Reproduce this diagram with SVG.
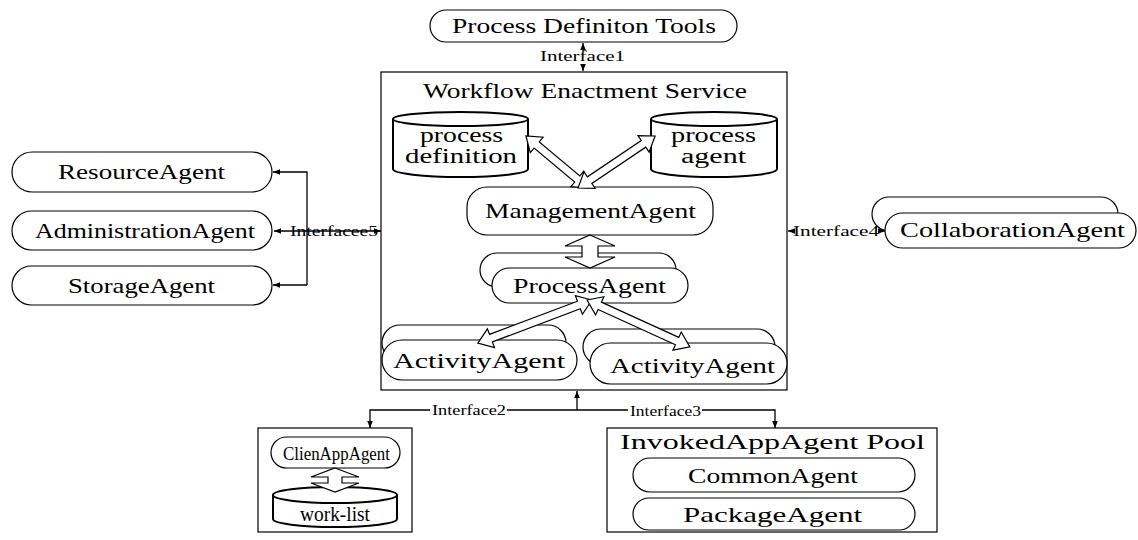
<svg xmlns="http://www.w3.org/2000/svg" width="1138" height="540" viewBox="0 0 1138 540">
<style>
  .n { fill: #fff; stroke: #000; stroke-width: 1.2; }
  .c { fill: #fff; stroke: #000; stroke-width: 2; }
  .b { fill: #fff; stroke: #000; stroke-width: 1.2; }
  .t { font-family: "Liberation Serif", "Times New Roman", serif; font-size: 22px; fill: #000; }
  .m { font-family: "Liberation Serif", "Times New Roman", serif; font-size: 20px; fill: #000; }
  .s { font-family: "Liberation Serif", "Times New Roman", serif; font-size: 14px; fill: #000; }
  .l { fill: none; stroke: #000; stroke-width: 1.3; }
  .h { fill: #fff; stroke: #000; stroke-width: 1.2; stroke-linejoin: miter; }
</style>
<defs>
  <marker id="ah" viewBox="0 0 10 10" refX="10" refY="5" markerWidth="7" markerHeight="7" markerUnits="userSpaceOnUse" orient="auto-start-reverse">
    <path d="M0,1 L10,5 L0,9 z" fill="#000"/>
  </marker>
</defs>
<rect width="1138" height="540" fill="#fff"/>

<g id="process-definition-tools">
  <rect class="n" x="430" y="10" width="307" height="32" rx="16"/>
  <text class="t" x="452" y="33" textLength="264" lengthAdjust="spacingAndGlyphs">Process Definiton Tools</text>
</g>

<g id="workflow-enactment-service">
  <rect class="b" x="381" y="72" width="406" height="318"/>
  <text class="t" x="423" y="98" textLength="324" lengthAdjust="spacingAndGlyphs">Workflow Enactment Service</text>
</g>

<g id="process-definition">
  <path class="c" d="M393,119 A67.5,7 0 0,1 528,119 L528,169 A67.5,8 0 0,1 393,169 Z"/>
  <path class="c" d="M393,119 A67.5,7 0 0,0 528,119"/>
  <text class="m" x="420" y="142" textLength="83" lengthAdjust="spacingAndGlyphs">process</text>
  <text class="m" x="405" y="163" textLength="112" lengthAdjust="spacingAndGlyphs">definition</text>
</g>

<g id="process-agent-db">
  <path class="c" d="M651,119 A63,7 0 0,1 777,119 L777,169 A63,8 0 0,1 651,169 Z"/>
  <path class="c" d="M651,119 A63,7 0 0,0 777,119"/>
  <text class="m" x="671" y="142" textLength="85" lengthAdjust="spacingAndGlyphs">process</text>
  <text class="m" x="681" y="163" textLength="65" lengthAdjust="spacingAndGlyphs">agent</text>
</g>

<g id="management-agent">
  <rect class="n" x="467" y="187" width="246" height="48" rx="20"/>
  <text class="t" x="485" y="218" textLength="211" lengthAdjust="spacingAndGlyphs">ManagementAgent</text>
</g>

<g id="process-agent">
  <rect class="n" x="480" y="253" width="196" height="34" rx="17"/>
  <rect class="n" x="492" y="268" width="196" height="35" rx="17.5"/>
  <text class="t" x="513" y="293" textLength="153" lengthAdjust="spacingAndGlyphs">ProcessAgent</text>
</g>

<g id="activity-agent-1">
  <rect class="n" x="382" y="325" width="184" height="36" rx="18"/>
  <rect class="n" x="382" y="340" width="195" height="40" rx="20"/>
  <text class="t" x="393" y="368" textLength="172" lengthAdjust="spacingAndGlyphs">ActivityAgent</text>
</g>

<g id="activity-agent-2">
  <rect class="n" x="583" y="329" width="192" height="36" rx="18"/>
  <rect class="n" x="590" y="343" width="197" height="41" rx="20.5"/>
  <text class="t" x="610" y="373" textLength="165" lengthAdjust="spacingAndGlyphs">ActivityAgent</text>
</g>

<g id="resource-agent">
  <rect class="n" x="12" y="152" width="260" height="40" rx="20"/>
  <text class="t" x="58" y="179" textLength="167" lengthAdjust="spacingAndGlyphs">ResourceAgent</text>
</g>

<g id="administration-agent">
  <rect class="n" x="12" y="211" width="260" height="39" rx="19.5"/>
  <text class="t" x="35" y="238" textLength="220" lengthAdjust="spacingAndGlyphs">AdministrationAgent</text>
</g>

<g id="storage-agent">
  <rect class="n" x="12" y="266" width="260" height="39" rx="19.5"/>
  <text class="t" x="68" y="293" textLength="147" lengthAdjust="spacingAndGlyphs">StorageAgent</text>
</g>

<g id="collaboration-agent">
  <rect class="n" x="872" y="197" width="246" height="34" rx="17"/>
  <rect class="n" x="885" y="213" width="251" height="35" rx="17.5"/>
  <text class="t" x="900" y="237" textLength="225" lengthAdjust="spacingAndGlyphs">CollaborationAgent</text>
</g>

<g id="client-app">
  <rect class="b" x="258" y="428" width="154" height="104"/>
  <rect class="n" x="271" y="437" width="129" height="31" rx="15.5"/>
  <text x="283" y="460" font-family="Liberation Serif, serif" font-size="18" textLength="107" lengthAdjust="spacingAndGlyphs">ClienAppAgent</text>
</g>

<g id="work-list">
  <path class="c" d="M273,495 A62,8 0 0,1 397,495 L397,519 A62,8 0 0,1 273,519 Z"/>
  <path class="c" d="M273,495 A62,8 0 0,0 397,495"/>
  <text x="300" y="521" font-family="Liberation Serif, serif" font-size="20" textLength="70" lengthAdjust="spacingAndGlyphs">work-list</text>
</g>

<g id="invoked-app-pool">
  <rect class="b" x="607" y="428" width="330" height="104"/>
  <text class="t" x="620" y="449" textLength="305" lengthAdjust="spacingAndGlyphs">InvokedAppAgent Pool</text>
  <rect class="n" x="633" y="458" width="282" height="34" rx="17"/>
  <text class="t" x="688" y="483" textLength="170" lengthAdjust="spacingAndGlyphs">CommonAgent</text>
  <rect class="n" x="633" y="498" width="282" height="32" rx="16"/>
  <text class="t" x="683" y="522" textLength="179" lengthAdjust="spacingAndGlyphs">PackageAgent</text>
</g>

<g id="connectors">
  <line class="l" x1="583" y1="51" x2="583" y2="43" marker-end="url(#ah)"/>
  <line class="l" x1="583" y1="64" x2="583" y2="71" marker-end="url(#ah)"/>
  <text class="s" x="540" y="61" textLength="85" lengthAdjust="spacingAndGlyphs">Interface1</text>

  <polyline class="l" points="307,285 307,172 273,172" marker-end="url(#ah)"/>
  <line class="l" x1="307" y1="285" x2="273" y2="285" marker-end="url(#ah)"/>
  <line class="l" x1="274" y1="231" x2="381" y2="231" marker-start="url(#ah)" marker-end="url(#ah)"/>
  <text class="s" x="290" y="236" textLength="88" lengthAdjust="spacingAndGlyphs">Interfacee5</text>

  <line class="l" x1="788" y1="231" x2="793" y2="231" marker-start="url(#ah)"/>
  <line class="l" x1="880" y1="231" x2="885" y2="231" marker-end="url(#ah)"/>
  <text class="s" x="793" y="236" textLength="86" lengthAdjust="spacingAndGlyphs">Interface4</text>

  <line class="l" x1="577" y1="410" x2="577" y2="391" marker-end="url(#ah)"/>
  <polyline class="l" points="430,410 370,410 370,428" marker-end="url(#ah)"/>
  <line class="l" x1="507" y1="410" x2="628" y2="410"/>
  <polyline class="l" points="702,410 775,410 775,428" marker-end="url(#ah)"/>
  <text class="s" x="432" y="415" textLength="74" lengthAdjust="spacingAndGlyphs">Interface2</text>
  <text class="s" x="630" y="416" textLength="71" lengthAdjust="spacingAndGlyphs">Interface3</text>

  <polygon class="h" transform="translate(588,188) rotate(-140)" points="0,0 14,-10 14,-4 67,-4 67,-10 81,0 67,10 67,4 14,4 14,10"/>
  <polygon class="h" transform="translate(578,188) rotate(-34)" points="0,0 14,-10 14,-4 79,-4 79,-10 93,0 79,10 79,4 14,4 14,10"/>
  <polygon class="h" transform="translate(590,235) rotate(90)" points="0,0 11,-25 11,-8 22,-8 22,-25 33,0 22,25 22,8 11,8 11,25"/>
  <polygon class="h" transform="translate(592,300) rotate(159.3)" points="0,0 14,-10 14,-4 108,-4 108,-10 122,0 108,10 108,4 14,4 14,10"/>
  <polygon class="h" transform="translate(587,300) rotate(24.5)" points="0,0 14,-10 14,-4 99,-4 99,-10 113,0 99,10 99,4 14,4 14,10"/>
  <polygon class="h" transform="translate(335,468) rotate(90)" points="0,0 9,-24 9,-7 15,-7 15,-24 24,0 15,24 15,7 9,7 9,24"/>
</g>
</svg>
